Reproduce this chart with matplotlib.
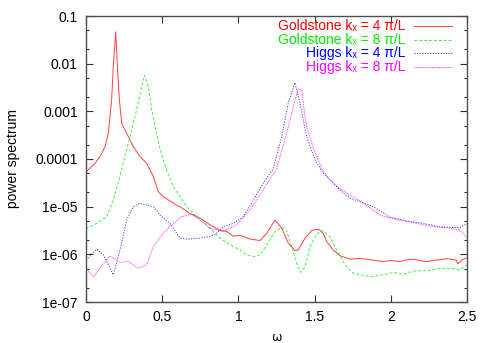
import numpy as np
import matplotlib
matplotlib.use("Agg")
import matplotlib.pyplot as plt
from matplotlib.ticker import LogLocator, FixedFormatter, FixedLocator, NullFormatter

# values, power spectrum stored as log10
gold4_w = [0, 0.059, 0.092, 0.125, 0.147, 0.168, 0.179, 0.195, 0.206, 0.219, 0.234, 0.267,
           0.31, 0.354, 0.398, 0.442, 0.475, 0.507, 0.551, 0.595, 0.617, 0.68, 0.748, 0.814,
           0.879, 0.923, 0.967, 1.01, 1.076, 1.142, 1.186, 1.24, 1.284, 1.328, 1.371, 1.393,
           1.437, 1.481, 1.524, 1.557, 1.579, 1.623, 1.667, 1.732, 1.79, 1.84, 1.9, 1.95,
           2.0, 2.06, 2.1, 2.15, 2.2, 2.24, 2.3, 2.37, 2.43, 2.44, 2.465, 2.5]
gold4_log = [-4.27, -4.09, -3.95, -3.74, -3.46, -2.76, -2.06, -1.33, -2.06, -2.76, -3.25, -3.46,
             -3.74, -3.95, -4.09, -4.37, -4.69, -4.79, -4.88, -4.97, -5.0, -5.14, -5.24, -5.38,
             -5.50, -5.52, -5.62, -5.60, -5.68, -5.71, -5.56, -5.28, -5.45, -5.77, -5.92, -5.91,
             -5.66, -5.50, -5.47, -5.56, -5.73, -5.91, -6.03, -6.10, -6.09, -6.10, -6.13, -6.15,
             -6.13, -6.15, -6.12, -6.10, -6.14, -6.15, -6.12, -6.09, -6.12, -6.20, -6.12, -6.07]

gold8_w = [0, 0.07, 0.136, 0.179, 0.223, 0.25, 0.289, 0.332, 0.365, 0.383, 0.409, 0.431,
           0.453, 0.486, 0.529, 0.573, 0.617, 0.66, 0.715, 0.77, 0.835, 0.879, 0.945, 1.01,
           1.054, 1.109, 1.142, 1.186, 1.24, 1.284, 1.317, 1.35, 1.383, 1.409, 1.437, 1.47,
           1.514, 1.557, 1.6, 1.645, 1.7, 1.754, 1.864, 1.95, 2.02, 2.08, 2.15, 2.24, 2.32,
           2.41, 2.45, 2.5]
gold8_log = [-5.47, -5.35, -5.21, -4.86, -4.37, -4.0, -3.53, -2.97, -2.48, -2.24, -2.48, -2.97,
             -3.32, -3.80, -4.23, -4.58, -4.79, -5.0, -5.17, -5.31, -5.52, -5.66, -5.80, -5.91,
             -6.01, -6.05, -6.01, -5.80, -5.52, -5.43, -5.52, -5.84, -6.19, -6.38, -6.26, -5.84,
             -5.57, -5.50, -5.63, -5.91, -6.22, -6.40, -6.47, -6.43, -6.38, -6.42, -6.35, -6.34,
             -6.30, -6.30, -6.33, -6.22]

higgs4_w = [0, 0.07, 0.114, 0.179, 0.223, 0.267, 0.31, 0.354, 0.442, 0.497, 0.551, 0.617,
            0.66, 0.748, 0.814, 0.846, 0.9, 0.967, 1.032, 1.098, 1.163, 1.229, 1.284, 1.327,
            1.371, 1.404, 1.448, 1.503, 1.557, 1.623, 1.689, 1.732, 1.8, 1.885, 1.995, 2.1,
            2.21, 2.32, 2.45, 2.5]
higgs4_log = [-6.12, -5.89, -6.01, -6.43, -5.91, -5.28, -5.0, -4.93, -5.0, -5.21, -5.35, -5.66,
              -5.68, -5.66, -5.62, -5.59, -5.42, -5.35, -5.21, -4.86, -4.51, -4.2, -3.53, -2.83,
              -2.40, -2.83, -3.53, -4.02, -4.30, -4.51, -4.72, -4.82, -4.90, -5.0, -5.22, -5.30,
              -5.35, -5.42, -5.44, -5.36]

higgs8_w = [0, 0.048, 0.092, 0.157, 0.223, 0.278, 0.343, 0.398, 0.442, 0.497, 0.562, 0.628,
            0.694, 0.748, 0.814, 0.9, 0.989, 1.076, 1.163, 1.251, 1.317, 1.371, 1.393, 1.415,
            1.437, 1.448, 1.492, 1.557, 1.623, 1.667, 1.732, 1.8, 1.86, 1.93, 2.04, 2.17, 2.28,
            2.39, 2.45, 2.476, 2.5]
higgs8_log = [-6.29, -6.47, -6.29, -6.03, -6.17, -6.15, -6.29, -6.22, -5.84, -5.59, -5.38, -5.21,
              -5.16, -5.28, -5.45, -5.52, -5.38, -5.07, -4.65, -4.2, -3.46, -2.76, -2.54, -2.55,
              -3.11, -3.32, -3.78, -4.27, -4.50, -4.62, -4.76, -4.88, -5.02, -5.18, -5.27, -5.35,
              -5.42, -5.45, -5.49, -5.56, -5.65]

labels = ["Goldstone kₓ = 4 π/L", "Goldstone kₓ = 8 π/L",
          "Higgs kₓ = 4 π/L", "Higgs kₓ = 8 π/L"]
colors = ["#ff0000", "#00ee00", "#0000ff", "#ff00ff"]
styles = ["-", (0, (3, 2)), (0, (1.2, 1.5)), (0, (1, 0.8))]

plt.rcParams['font.family'] = ['Liberation Sans', 'DejaVu Sans']

fig = plt.figure(figsize=(4.91, 3.43), dpi=100)
ax = fig.add_axes([86 / 491, 41 / 343, 381 / 491, 286 / 343])

series = [(gold4_w, gold4_log), (gold8_w, gold8_log), (higgs4_w, higgs4_log), (higgs8_w, higgs8_log)]
for (w, lg), c, ls in zip(series, colors, styles):
    ax.plot(w, 10.0 ** np.array(lg), color=c, ls=ls, lw=0.7, alpha=0.75)

ax.set_yscale('log')
ax.set_xlim(0, 2.5)
ax.set_ylim(1e-7, 0.1)
ax.xaxis.set_major_locator(FixedLocator([0, 0.5, 1, 1.5, 2, 2.5]))
ax.set_xticklabels(["0", "0.5", "1", "1.5", "2", "2.5"])
yt = [1e-7, 1e-6, 1e-5, 1e-4, 1e-3, 1e-2, 1e-1]
ax.yaxis.set_major_locator(FixedLocator(yt))
ax.yaxis.set_major_formatter(FixedFormatter(["1e-07", "1e-06", "1e-05", "0.0001", "0.001", "0.01", "0.1"]))
ax.yaxis.set_minor_locator(LogLocator(base=10, subs=(2, 5)))
ax.yaxis.set_minor_formatter(NullFormatter())
ax.tick_params(which='both', direction='in', top=True, right=True, labelsize=10, color='0.2')
ax.tick_params(which='major', length=5, width=0.8, pad=6)
ax.tick_params(which='minor', length=2.5, width=0.8)
for s in ax.spines.values():
    s.set_color('0.3')
    s.set_linewidth(1)

ax.set_xlabel("ω", fontsize=9, family=['DejaVu Sans'], labelpad=5)
ax.set_ylabel("power spectrum", fontsize=10, labelpad=11)

# gnuplot style key: right aligned text, sample line on the right
rows = [26, 40, 53, 67]
for lab, c, ls, py in zip(labels, colors, styles, rows):
    yy = 1 - (py - 16) / 286
    ax.text((406 - 86) / 381, yy, lab, color=c, ha='right', va='center', fontsize=10,
            transform=ax.transAxes)
    ax.plot([(414 - 86) / 381, (452 - 86) / 381], [yy, yy], color=c, ls=ls, lw=0.7, alpha=0.75,
            transform=ax.transAxes)

fig.savefig("out.png", dpi=100)
